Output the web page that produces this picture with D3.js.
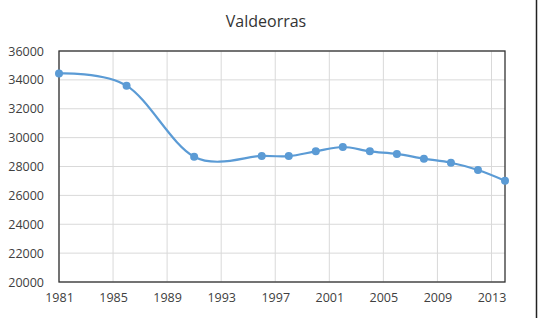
<!DOCTYPE html>
<html>
<head>
<meta charset="utf-8">
<script src="https://cdn.jsdelivr.net/npm/d3@7"></script>
<style>
  body { margin: 0; background: #fff; }
  text { font-family: "Open Sans", sans-serif; fill: #404040; }
</style>
</head>
<body>
<script>
// Data
const years = [1981, 1986, 1991, 1996, 1998, 2000, 2002, 2004, 2006, 2008, 2010, 2012, 2014];
const population = [34450, 33600, 28680, 28730, 28720, 29050, 29350, 29050, 28870, 28540, 28260, 27760, 27020];
const yTicks = [20000, 22000, 24000, 26000, 28000, 30000, 32000, 34000, 36000];
const xTicks = [1981, 1985, 1989, 1993, 1997, 2001, 2005, 2009, 2013];
const title = "Valdeorras";

// Dimensions
const W = 543, H = 318;
const margin = { top: 51, right: 38, bottom: 36, left: 59 };
const width = W - margin.left - margin.right;
const height = H - margin.top - margin.bottom;

const svg = d3.select("body")
    .append("svg")
    .attr("width", W)
    .attr("height", H);

// outer frame edge on the right
svg.append("line")
    .attr("x1", 536.5).attr("x2", 536.5)
    .attr("y1", 0).attr("y2", H)
    .attr("stroke", "#222")
    .attr("stroke-width", 1.5);

svg.append("text")
    .attr("x", 266)
    .attr("y", 27)
    .attr("text-anchor", "middle")
    .attr("font-size", 16)
    .style("fill", "#333")
    .text(title);

const g = svg.append("g")
    .attr("transform", `translate(${margin.left},${margin.top})`);

const x = d3.scaleLinear().domain([1981, 2014]).range([0, width]);
const y = d3.scaleLinear().domain([20000, 36000]).range([height, 0]);

// gridlines
g.append("g")
    .selectAll("line")
    .data(yTicks)
    .enter()
    .append("line")
    .attr("x1", 0).attr("x2", width)
    .attr("y1", d => y(d)).attr("y2", d => y(d))
    .attr("stroke", "#d9d9d9");

g.append("g")
    .selectAll("line")
    .data(xTicks)
    .enter()
    .append("line")
    .attr("x1", d => x(d)).attr("x2", d => x(d))
    .attr("y1", 0).attr("y2", height)
    .attr("stroke", "#d9d9d9");

// plot border
g.append("rect")
    .attr("width", width)
    .attr("height", height)
    .attr("fill", "none")
    .attr("stroke", "#333")
    .attr("stroke-width", 1.3);

// axes labels
const yAxis = g.append("g")
    .call(d3.axisLeft(y).tickValues(yTicks).tickSize(0).tickPadding(15).tickFormat(d3.format("d")));
yAxis.select(".domain").remove();
yAxis.selectAll("text").attr("font-size", 12.5).style("font-family", "Open Sans, sans-serif").style("fill", "#404040");

const xAxis = g.append("g")
    .attr("transform", `translate(0,${height})`)
    .call(d3.axisBottom(x).tickValues(xTicks).tickSize(0).tickPadding(11).tickFormat(d3.format("d")));
xAxis.select(".domain").remove();
xAxis.selectAll("text").attr("font-size", 12.5).style("font-family", "Open Sans, sans-serif").style("fill", "#404040");

// line
const pts = years.map((d, i) => [d, population[i]]);
const line = d3.line()
    .x(d => x(d[0]))
    .y(d => y(d[1]))
    .curve(d3.curveCardinal.tension(0));

g.append("path")
    .datum(pts)
    .attr("fill", "none")
    .attr("stroke", "#5b9bd5")
    .attr("stroke-width", 2.2)
    .attr("d", line);

g.selectAll("circle")
    .data(pts)
    .enter()
    .append("circle")
    .attr("cx", d => x(d[0]))
    .attr("cy", d => y(d[1]))
    .attr("r", 4)
    .attr("fill", "#5b9bd5");
</script>
</body>
</html>
